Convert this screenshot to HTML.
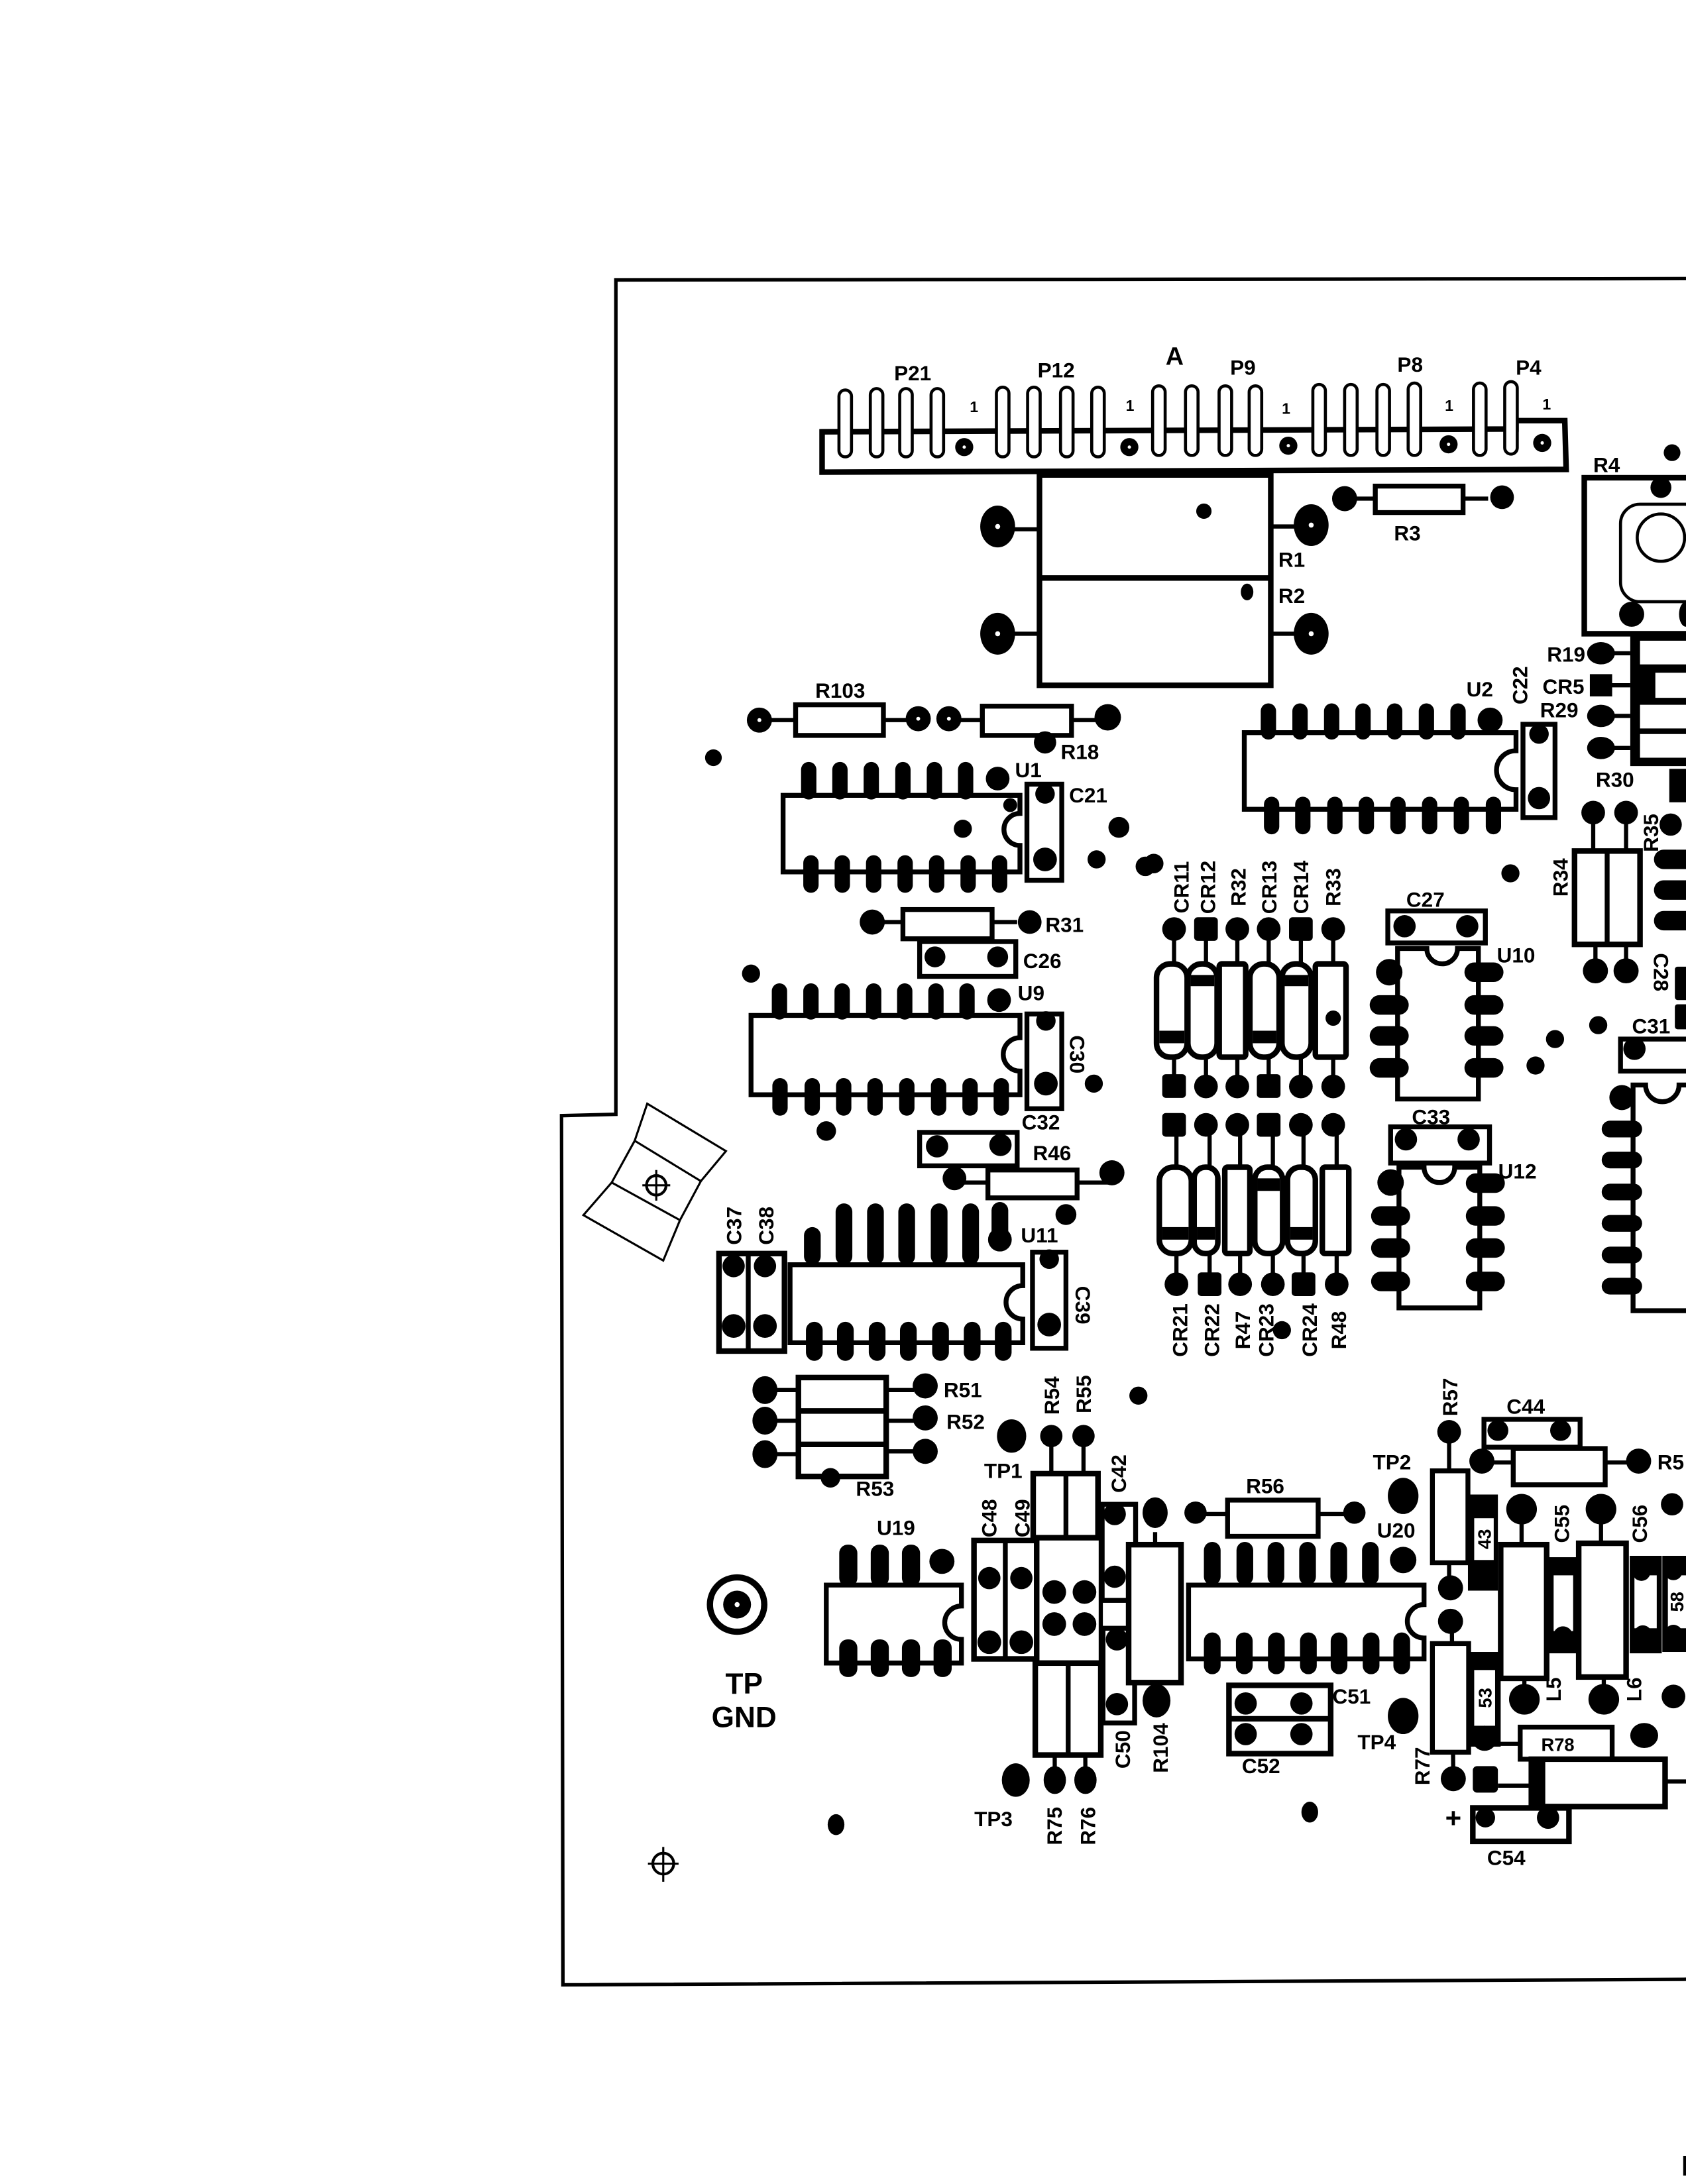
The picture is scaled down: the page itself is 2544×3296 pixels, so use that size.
<!DOCTYPE html>
<html><head><meta charset="utf-8"><style>
html,body{margin:0;padding:0;background:#fff}
svg{display:block}
.t{font-family:"Liberation Sans",sans-serif;font-weight:bold;font-size:15px;fill:#000;text-anchor:middle}
.s{font-size:11px}
.o{fill:#fff;stroke:#000;stroke-width:3.5}
.o2{fill:#fff;stroke:#000;stroke-width:2.2}
.l{stroke:#000;stroke-width:3;fill:none}
.w{fill:#fff}
</style></head><body>
<svg width="2544" height="3296" viewBox="0 0 1210 1568" preserveAspectRatio="none" xmlns="http://www.w3.org/2000/svg">
<rect x="0" y="0" width="1210" height="1568" fill="#fff"/>
<!-- board outline -->
<path d="M1215,200 L442,201 L442,800 L403,801 L404,1425 L1215,1421" fill="none" stroke="#000" stroke-width="2.5"/>
<rect x="1208" y="1548" width="2.5" height="14" fill="#000"/>

<!-- connector strip -->
<path d="M590,310 L1088,308 L1088,302 L1123,302 L1124,337 L590,339 Z" fill="#fff" stroke="#000" stroke-width="4"/>
<g class="o2">
<rect x="602.1" y="280" width="9" height="48" rx="4.5"/><rect x="624.6" y="279" width="9" height="49" rx="4.5"/><rect x="645.7" y="279" width="9" height="49" rx="4.5"/><rect x="668.2" y="279" width="9" height="49" rx="4.5"/>
<rect x="715.1" y="278" width="9" height="50" rx="4.5"/><rect x="737.5" y="278" width="9" height="50" rx="4.5"/><rect x="761.1" y="278" width="9" height="50" rx="4.5"/><rect x="783.5" y="278" width="9" height="50" rx="4.5"/>
<rect x="827.2" y="277" width="9" height="50" rx="4.5"/><rect x="850.8" y="277" width="9" height="50" rx="4.5"/><rect x="874.9" y="277" width="9" height="50" rx="4.5"/><rect x="896.5" y="277" width="9" height="50" rx="4.5"/>
<rect x="942.2" y="276" width="9" height="51" rx="4.5"/><rect x="965" y="276" width="9" height="51" rx="4.5"/><rect x="988.2" y="276" width="9" height="51" rx="4.5"/><rect x="1010.6" y="275" width="9" height="52" rx="4.5"/>
<rect x="1057.5" y="275" width="9" height="52" rx="4.5"/><rect x="1079.9" y="274" width="9" height="52" rx="4.5"/>
</g>
<g fill="#000"><circle cx="692" cy="321" r="6.5"/><circle cx="810.5" cy="321" r="6.5"/><circle cx="924.6" cy="320" r="6.5"/><circle cx="1039.6" cy="319" r="6.5"/><circle cx="1106.8" cy="318" r="6.5"/></g>
<g fill="#fff"><circle cx="692" cy="321" r="1.2"/><circle cx="810.5" cy="321" r="1.2"/><circle cx="924.6" cy="320" r="1.2"/><circle cx="1039.6" cy="319" r="1.2"/><circle cx="1106.8" cy="318" r="1.2"/></g>
<text class="t" x="655" y="273">P21</text><text class="t" x="758" y="271">P12</text><text class="t" x="843" y="262" style="font-size:18px">A</text>
<text class="t" x="892" y="269">P9</text><text class="t" x="1012" y="267">P8</text><text class="t" x="1097" y="269">P4</text>
<text class="t s" x="699" y="296">1</text><text class="t s" x="811" y="295">1</text><text class="t s" x="923" y="297">1</text><text class="t s" x="1040" y="295">1</text><text class="t s" x="1110" y="294">1</text>

<!-- R1 R2 block -->
<rect x="746" y="341" width="166" height="151" class="o" style="stroke-width:4"/>
<line x1="746" y1="415" x2="912" y2="415" stroke="#000" stroke-width="4"/>
<g class="l"><line x1="728" y1="380" x2="746" y2="380"/><line x1="728" y1="455" x2="746" y2="455"/><line x1="912" y1="378" x2="930" y2="378"/><line x1="912" y1="455" x2="930" y2="455"/></g>
<g fill="#000"><ellipse cx="716" cy="378" rx="12.5" ry="15"/><ellipse cx="716" cy="455" rx="12.5" ry="15"/><ellipse cx="941" cy="377" rx="12.5" ry="15"/><ellipse cx="941" cy="455" rx="12.5" ry="15"/><circle cx="864" cy="367" r="5.5"/><ellipse cx="895" cy="425" rx="4.5" ry="6"/></g>
<g fill="#fff"><circle cx="716" cy="378" r="1.8"/><circle cx="716" cy="455" r="1.8"/><circle cx="941" cy="377" r="1.8"/><circle cx="941" cy="455" r="1.8"/></g>
<text class="t" x="927" y="407">R1</text><text class="t" x="927" y="433">R2</text>

<!-- R3 -->
<g class="l"><line x1="965" y1="358" x2="1068" y2="358"/></g>
<rect x="987" y="349" width="63" height="19" class="o"/>
<circle cx="965" cy="358" r="9" fill="#000"/><circle cx="1078" cy="357" r="8.5" fill="#000"/>
<text class="t" x="1010" y="388">R3</text>

<!-- R4 -->
<rect x="1137" y="343" width="85" height="112" class="o" style="stroke-width:4"/>
<rect x="1163" y="362" width="60" height="70" rx="14" class="o2"/>
<circle cx="1192" cy="386" r="17" class="o2"/>
<circle cx="1192" cy="350" r="7.5" fill="#000"/><circle cx="1200" cy="325" r="6" fill="#000"/>
<ellipse cx="1171" cy="441" rx="9" ry="9" fill="#000"/><ellipse cx="1210" cy="441" rx="5" ry="9" fill="#000"/>
<text class="t" x="1153" y="339">R4</text>

<!-- R19 CR5 R29 R30 -->
<rect x="1170" y="455" width="45" height="95" fill="#000"/>
<rect x="1177" y="460" width="40" height="17" class="w"/>
<rect x="1188" y="483" width="30" height="18" class="w"/>
<rect x="1177" y="506" width="40" height="17" class="w"/>
<rect x="1177" y="527" width="40" height="17" class="w"/>
<g class="l"><line x1="1148" y1="469" x2="1170" y2="469"/><line x1="1149" y1="492" x2="1170" y2="492"/><line x1="1149" y1="514" x2="1170" y2="514"/><line x1="1149" y1="537" x2="1170" y2="537"/></g>
<ellipse cx="1149" cy="469" rx="10" ry="8" fill="#000"/><rect x="1141" y="484" width="16" height="16" fill="#000"/><ellipse cx="1149" cy="514" rx="10" ry="8" fill="#000"/><ellipse cx="1149" cy="537" rx="10" ry="8" fill="#000"/>
<text class="t" x="1124" y="475">R19</text><text class="t" x="1122" y="498">CR5</text><text class="t" x="1119" y="515">R29</text><text class="t" x="1159" y="565">R30</text>
<rect x="1198" y="552" width="14" height="24" fill="#000"/>

<!-- C22 / U2 -->
<text class="t" transform="translate(1091,492) rotate(-90)" dy="5">C22</text>
<rect x="1093" y="520" width="23" height="67" class="o"/>
<circle cx="1104.5" cy="527" r="7" fill="#000"/><circle cx="1104.5" cy="573" r="8" fill="#000"/>
<path d="M893,526 L1088,526 L1088,539 A14,14 0 0 0 1088,567 L1088,581 L893,581 Z" class="o"/>
<g fill="#000">
<rect x="904.8" y="505" width="11" height="26" rx="5.5"/><rect x="927.5" y="505" width="11" height="26" rx="5.5"/><rect x="950.2" y="505" width="11" height="26" rx="5.5"/><rect x="972.7" y="505" width="11" height="26" rx="5.5"/><rect x="995.4" y="505" width="11" height="26" rx="5.5"/><rect x="1018.2" y="505" width="11" height="26" rx="5.5"/><rect x="1040.9" y="505" width="11" height="26" rx="5.5"/>
<circle cx="1069.4" cy="517" r="9"/>
<rect x="907.1" y="572" width="11" height="27" rx="5.5"/><rect x="929.5" y="572" width="11" height="27" rx="5.5"/><rect x="952.5" y="572" width="11" height="27" rx="5.5"/><rect x="975.1" y="572" width="11" height="27" rx="5.5"/><rect x="997.8" y="572" width="11" height="27" rx="5.5"/><rect x="1020.5" y="572" width="11" height="27" rx="5.5"/><rect x="1043.3" y="572" width="11" height="27" rx="5.5"/><rect x="1066.3" y="572" width="11" height="27" rx="5.5"/>
</g>
<text class="t" x="1062" y="500">U2</text>

<!-- R103 R18 -->
<g class="l"><line x1="545" y1="517" x2="659" y2="517"/><line x1="681" y1="517" x2="795" y2="517"/></g>
<rect x="571" y="506" width="63" height="22" class="o"/>
<rect x="705" y="507" width="64" height="21" class="o"/>
<g fill="#000"><circle cx="545" cy="517" r="9"/><circle cx="659" cy="516" r="9"/><circle cx="681" cy="516" r="9"/><circle cx="795" cy="515" r="9.5"/><circle cx="750" cy="533" r="8"/></g>
<g fill="#fff"><circle cx="545" cy="517" r="1.4"/><circle cx="659" cy="516" r="1.4"/><circle cx="681" cy="516" r="1.4"/></g>
<text class="t" x="603" y="501">R103</text><text class="t" x="775" y="545">R18</text>

<!-- U1 -->
<path d="M562,571 L732,571 L732,584 A11.5,11.5 0 0 0 732,607 L732,626 L562,626 Z" class="o"/>
<g fill="#000">
<rect x="574.9" y="547" width="11" height="27" rx="5.5"/><rect x="597.3" y="547" width="11" height="27" rx="5.5"/><rect x="619.8" y="547" width="11" height="27" rx="5.5"/><rect x="642.5" y="547" width="11" height="27" rx="5.5"/><rect x="665.1" y="547" width="11" height="27" rx="5.5"/><rect x="687.5" y="547" width="11" height="27" rx="5.5"/>
<circle cx="716" cy="559" r="8.5"/>
<rect x="576.5" y="614" width="11" height="27" rx="5.5"/><rect x="599" y="614" width="11" height="27" rx="5.5"/><rect x="621.5" y="614" width="11" height="27" rx="5.5"/><rect x="644.1" y="614" width="11" height="27" rx="5.5"/><rect x="666.7" y="614" width="11" height="27" rx="5.5"/><rect x="689.3" y="614" width="11" height="27" rx="5.5"/><rect x="711.9" y="614" width="11" height="27" rx="5.5"/>
<circle cx="691" cy="595" r="6.5"/><circle cx="725" cy="578" r="5"/>
</g>
<text class="t" x="738" y="558">U1</text>
<rect x="737" y="563" width="25" height="69" class="o"/>
<circle cx="750" cy="570" r="7" fill="#000"/><circle cx="750" cy="617" r="8.5" fill="#000"/>
<text class="t" x="781" y="576">C21</text>

<!-- misc pads -->
<g fill="#000">
<circle cx="512" cy="544" r="6"/><circle cx="803" cy="594" r="7.5"/><circle cx="787" cy="617" r="6.5"/><circle cx="822" cy="622" r="7"/>
<circle cx="539" cy="699" r="6.5"/><circle cx="785" cy="778" r="6.5"/><circle cx="593" cy="812" r="7"/><circle cx="765" cy="872" r="7.5"/>
<circle cx="817" cy="1002" r="6.5"/><circle cx="828" cy="620" r="7"/><circle cx="1084" cy="627" r="6.5"/><circle cx="1116" cy="746" r="6.5"/>
<circle cx="1102" cy="765" r="6.5"/><circle cx="1147" cy="736" r="6.5"/><circle cx="920" cy="955" r="6.5"/><ellipse cx="600" cy="1310" rx="6" ry="7.5"/>
<ellipse cx="940" cy="1301" rx="6" ry="7.5"/><circle cx="1200" cy="1080" r="8"/><circle cx="1201" cy="1218" r="8.5"/><circle cx="1078" cy="357" r="8"/>
</g>

<!-- R31 C26 -->
<line x1="626" y1="662" x2="730" y2="662" class="l"/>
<rect x="648" y="653" width="64" height="21" class="o"/>
<circle cx="626" cy="662" r="9" fill="#000"/><circle cx="739" cy="662" r="8.5" fill="#000"/>
<text class="t" x="764" y="669">R31</text>
<rect x="660" y="676" width="69" height="25" class="o"/>
<circle cx="671" cy="687" r="7.5" fill="#000"/><circle cx="716" cy="687" r="7.5" fill="#000"/>
<text class="t" x="748" y="695">C26</text>

<!-- U9 -->
<path d="M539,729 L732,729 L732,745 A12,12 0 0 0 732,769 L732,786 L539,786 Z" class="o"/>
<g fill="#000">
<rect x="553.9" y="706" width="11" height="26" rx="5.5"/><rect x="576.5" y="706" width="11" height="26" rx="5.5"/><rect x="598.9" y="706" width="11" height="26" rx="5.5"/><rect x="621.5" y="706" width="11" height="26" rx="5.5"/><rect x="643.8" y="706" width="11" height="26" rx="5.5"/><rect x="666.2" y="706" width="11" height="26" rx="5.5"/><rect x="688.5" y="706" width="11" height="26" rx="5.5"/>
<circle cx="717" cy="718" r="8.5"/>
<rect x="554.3" y="774" width="11" height="27" rx="5.5"/><rect x="577.4" y="774" width="11" height="27" rx="5.5"/><rect x="600" y="774" width="11" height="27" rx="5.5"/><rect x="622.5" y="774" width="11" height="27" rx="5.5"/><rect x="645.3" y="774" width="11" height="27" rx="5.5"/><rect x="668.1" y="774" width="11" height="27" rx="5.5"/><rect x="690.7" y="774" width="11" height="27" rx="5.5"/><rect x="713.1" y="774" width="11" height="27" rx="5.5"/>
</g>
<text class="t" x="740" y="718">U9</text>
<rect x="737" y="728" width="25" height="68" class="o"/>
<circle cx="750.6" cy="733" r="7" fill="#000"/><circle cx="750.6" cy="778" r="8.5" fill="#000"/>
<text class="t" transform="translate(773,757) rotate(90)" dy="5">C30</text>

<!-- C32 R46 -->
<rect x="660" y="813" width="70" height="24" class="o"/>
<circle cx="672.5" cy="823" r="8" fill="#000"/><circle cx="718" cy="822" r="8" fill="#000"/>
<text class="t" x="747" y="811">C32</text>
<line x1="685" y1="849" x2="797" y2="849" class="l"/>
<rect x="709" y="840" width="64" height="20" class="o"/>
<circle cx="685" cy="846" r="8.5" fill="#000"/><circle cx="798" cy="842" r="9" fill="#000"/>
<text class="t" x="755" y="833">R46</text>

<!-- U11 -->
<path d="M567,908 L734,908 L734,923 A12,12 0 0 0 734,947 L734,964 L567,964 Z" class="o"/>
<g fill="#000">
<rect x="577" y="881" width="12" height="27" rx="6"/><rect x="599.7" y="864" width="12" height="44" rx="6"/><rect x="622.3" y="864" width="12" height="44" rx="6"/><rect x="644.7" y="864" width="12" height="44" rx="6"/><rect x="668" y="864" width="12" height="44" rx="6"/><rect x="690.6" y="864" width="12" height="44" rx="6"/><rect x="711.6" y="863" width="12" height="30" rx="6"/>
<circle cx="717.6" cy="890" r="8.5"/>
<rect x="578.4" y="949" width="12" height="28" rx="6"/><rect x="600.7" y="949" width="12" height="28" rx="6"/><rect x="623.5" y="949" width="12" height="28" rx="6"/><rect x="645.9" y="949" width="12" height="28" rx="6"/><rect x="669" y="949" width="12" height="28" rx="6"/><rect x="691.7" y="949" width="12" height="28" rx="6"/><rect x="714" y="949" width="12" height="28" rx="6"/>
</g>
<text class="t" x="746" y="892">U11</text>

<!-- C37 C38 C39 -->
<rect x="516" y="900" width="47" height="70" class="o" style="stroke-width:4"/>
<line x1="537" y1="900" x2="537" y2="970" stroke="#000" stroke-width="3.5"/>
<g fill="#000"><circle cx="526.5" cy="909" r="8"/><circle cx="549" cy="909" r="8"/><circle cx="526.5" cy="952" r="8.5"/><circle cx="549" cy="952" r="8.5"/></g>
<text class="t" transform="translate(527,880) rotate(-90)" dy="5">C37</text>
<text class="t" transform="translate(550,880) rotate(-90)" dy="5">C38</text>
<rect x="741" y="899" width="24" height="69" class="o"/>
<circle cx="753" cy="904" r="7" fill="#000"/><circle cx="753" cy="951" r="8.5" fill="#000"/>
<text class="t" transform="translate(777,937) rotate(90)" dy="5">C39</text>

<!-- fiducial -->
<polygon points="464.5,792.4 521,826.4 503,848 488,876 476,905 418.7,872.4 439,849 455.5,819" fill="#fff" stroke="#000" stroke-width="1.5"/>
<line x1="455.5" y1="819" x2="503" y2="848" stroke="#000" stroke-width="1.5"/>
<line x1="439" y1="849" x2="488" y2="876" stroke="#000" stroke-width="1.5"/>
<circle cx="471" cy="851" r="7" fill="none" stroke="#000" stroke-width="2"/>
<line x1="461" y1="851" x2="481" y2="851" stroke="#000" stroke-width="1.5"/><line x1="471" y1="840" x2="471" y2="862" stroke="#000" stroke-width="1.5"/>
<circle cx="476" cy="1338" r="7.5" fill="none" stroke="#000" stroke-width="2"/>
<line x1="465" y1="1338" x2="487" y2="1338" stroke="#000" stroke-width="1.5"/><line x1="476" y1="1326" x2="476" y2="1351" stroke="#000" stroke-width="1.5"/>

<!-- CR block -->
<g class="l">
<line x1="842.6" y1="667" x2="842.6" y2="780"/><line x1="865.5" y1="667" x2="865.5" y2="780"/><line x1="888" y1="667" x2="888" y2="780"/><line x1="910.5" y1="667" x2="910.5" y2="780"/><line x1="933.6" y1="667" x2="933.6" y2="780"/><line x1="956.8" y1="667" x2="956.8" y2="780"/>
<line x1="844.3" y1="808" x2="844.3" y2="922"/><line x1="868.1" y1="808" x2="868.1" y2="922"/><line x1="890" y1="808" x2="890" y2="922"/><line x1="913.5" y1="808" x2="913.5" y2="922"/><line x1="935.5" y1="808" x2="935.5" y2="922"/><line x1="959.3" y1="808" x2="959.3" y2="922"/>
</g>
<g class="o" style="stroke-width:4">
<rect x="830" y="692" width="22" height="67" rx="10"/><rect x="852.5" y="692" width="21" height="67" rx="10"/><rect x="875" y="692" width="19" height="67" rx="2"/><rect x="897" y="692" width="21" height="67" rx="10"/><rect x="920" y="692" width="21" height="67" rx="10"/><rect x="944" y="692" width="22" height="67" rx="2"/>
<rect x="832" y="838" width="23" height="62" rx="10"/><rect x="857" y="838" width="17" height="62" rx="8"/><rect x="879" y="838" width="18" height="62" rx="2"/><rect x="900.5" y="838" width="20" height="62" rx="9"/><rect x="924" y="838" width="20" height="62" rx="9"/><rect x="949" y="838" width="19" height="62" rx="2"/>
</g>
<g fill="#000">
<rect x="832" y="740" width="18" height="9"/><rect x="854.5" y="700" width="17" height="8"/><rect x="899" y="740" width="17" height="9"/><rect x="922" y="700" width="17" height="8"/>
<rect x="834" y="881" width="19" height="9"/><rect x="859" y="881" width="13" height="9"/><rect x="902.5" y="846" width="16" height="9"/><rect x="926" y="881" width="16" height="9"/>
<circle cx="956.8" cy="731" r="5.5"/>
<circle cx="842.6" cy="667" r="8.5"/><rect x="857" y="658.5" width="17" height="17" rx="2.5"/><circle cx="888" cy="667" r="8.5"/><circle cx="910.5" cy="667" r="8.5"/><rect x="925.1" y="658.5" width="17" height="17" rx="2.5"/><circle cx="956.8" cy="667" r="8.5"/>
<rect x="834.1" y="771.2" width="17" height="17" rx="2.5"/><circle cx="865.5" cy="780" r="8.5"/><circle cx="888" cy="780" r="8.5"/><rect x="902" y="771.2" width="17" height="17" rx="2.5"/><circle cx="933.6" cy="780" r="8.5"/><circle cx="956.8" cy="780" r="8.5"/>
<rect x="834.1" y="799.1" width="17" height="17" rx="2.5"/><circle cx="865.5" cy="807.6" r="8.5"/><circle cx="888" cy="807.6" r="8.5"/><rect x="902" y="799.1" width="17" height="17" rx="2.5"/><circle cx="933.6" cy="807.6" r="8.5"/><circle cx="956.8" cy="807.6" r="8.5"/>
<circle cx="844.3" cy="922" r="8.5"/><rect x="859.6" y="913.5" width="17" height="17" rx="2.5"/><circle cx="890" cy="922" r="8.5"/><circle cx="913.5" cy="922" r="8.5"/><rect x="927" y="913.5" width="17" height="17" rx="2.5"/><circle cx="959.3" cy="922" r="8.5"/>
</g>
<text class="t" transform="translate(848,637) rotate(-90)" dy="5">CR11</text>
<text class="t" transform="translate(867,637) rotate(-90)" dy="5">CR12</text>
<text class="t" transform="translate(889,637) rotate(-90)" dy="5">R32</text>
<text class="t" transform="translate(911,637) rotate(-90)" dy="5">CR13</text>
<text class="t" transform="translate(934,637) rotate(-90)" dy="5">CR14</text>
<text class="t" transform="translate(957,637) rotate(-90)" dy="5">R33</text>
<text class="t" transform="translate(847,955) rotate(-90)" dy="5">CR21</text>
<text class="t" transform="translate(870,955) rotate(-90)" dy="5">CR22</text>
<text class="t" transform="translate(892,955) rotate(-90)" dy="5">R47</text>
<text class="t" transform="translate(909,955) rotate(-90)" dy="5">CR23</text>
<text class="t" transform="translate(940,955) rotate(-90)" dy="5">CR24</text>
<text class="t" transform="translate(961,955) rotate(-90)" dy="5">R48</text>

<!-- C27 U10 -->
<rect x="996" y="654" width="70" height="23" class="o"/>
<circle cx="1008" cy="665" r="8" fill="#000"/><circle cx="1053" cy="665" r="8" fill="#000"/>
<text class="t" x="1023" y="651">C27</text>
<path d="M1003,681 L1024,681 A11,11 0 0 0 1046,681 L1061,681 L1061,789 L1003,789 Z" class="o"/>
<g fill="#000">
<circle cx="997" cy="698" r="9.5"/><rect x="983" y="714.5" width="28" height="14" rx="7"/><rect x="983" y="736.7" width="28" height="14" rx="7"/><rect x="983" y="759.7" width="28" height="14" rx="7"/>
<rect x="1051" y="691" width="28" height="14" rx="7"/><rect x="1051" y="714.5" width="28" height="14" rx="7"/><rect x="1051" y="736.7" width="28" height="14" rx="7"/><rect x="1051" y="759.7" width="28" height="14" rx="7"/>
</g>
<text class="t" x="1088" y="691">U10</text>
<!-- C33 U12 -->
<rect x="998" y="809" width="71" height="26" class="o"/>
<circle cx="1009" cy="818" r="8" fill="#000"/><circle cx="1054" cy="818" r="8" fill="#000"/>
<text class="t" x="1027" y="807">C33</text>
<path d="M1004,838 L1022,838 A11,11 0 0 0 1044,838 L1062,838 L1062,939 L1004,939 Z" class="o"/>
<g fill="#000">
<circle cx="998" cy="849" r="9.5"/><rect x="984" y="866" width="28" height="14" rx="7"/><rect x="984" y="889" width="28" height="14" rx="7"/><rect x="984" y="913" width="28" height="14" rx="7"/>
<rect x="1052" y="842.4" width="28" height="14" rx="7"/><rect x="1052" y="866" width="28" height="14" rx="7"/><rect x="1052" y="889" width="28" height="14" rx="7"/><rect x="1052" y="913" width="28" height="14" rx="7"/>
</g>
<text class="t" x="1089" y="846">U12</text>

<!-- R34 R35 -->
<g class="l"><line x1="1143.4" y1="583" x2="1143.4" y2="611"/><line x1="1167" y1="583" x2="1167" y2="611"/><line x1="1145" y1="678" x2="1145" y2="697"/><line x1="1167" y1="678" x2="1167" y2="697"/></g>
<rect x="1130" y="611" width="47" height="67" class="o" style="stroke-width:4"/>
<line x1="1153.4" y1="611" x2="1153.4" y2="678" stroke="#000" stroke-width="3.5"/>
<g fill="#000"><circle cx="1143.4" cy="583.4" r="8.5"/><circle cx="1167" cy="583.4" r="8.5"/><circle cx="1145" cy="697" r="9"/><circle cx="1167" cy="697" r="9"/></g>
<text class="t" transform="translate(1120,630) rotate(-90)" dy="5">R34</text>
<text class="t" transform="translate(1185,598) rotate(-90)" dy="5">R35</text>

<!-- right IC & misc -->
<g fill="#000">
<circle cx="1199" cy="592" r="8"/>
<rect x="1187" y="610" width="30" height="14" rx="7"/><rect x="1187" y="632" width="30" height="14" rx="7"/><rect x="1187" y="654" width="30" height="14" rx="7"/>
<rect x="1202" y="694" width="10" height="24" rx="2"/><rect x="1202" y="721" width="10" height="18" rx="2"/>
</g>
<text class="t" transform="translate(1192,698) rotate(90)" dy="5">C28</text>
<rect x="1163" y="746" width="52" height="23" class="o"/>
<circle cx="1173" cy="753" r="8" fill="#000"/>
<text class="t" x="1185" y="742">C31</text>
<path d="M1215,779 L1205,779 A12,12 0 0 1 1181,779 L1172,779 L1172,941 L1215,941" class="o"/>
<g fill="#000">
<circle cx="1164" cy="788" r="9"/>
<rect x="1149.5" y="804.6" width="29" height="12" rx="6"/><rect x="1149.5" y="826.8" width="29" height="12" rx="6"/><rect x="1149.5" y="849.8" width="29" height="12" rx="6"/><rect x="1149.5" y="872.3" width="29" height="12" rx="6"/><rect x="1149.5" y="895" width="29" height="12" rx="6"/><rect x="1149.5" y="917.4" width="29" height="12" rx="6"/>
</g>

<!-- R51 R52 R53 -->
<g class="l"><line x1="549" y1="998" x2="573" y2="998"/><line x1="549" y1="1020" x2="573" y2="1020"/><line x1="549" y1="1044" x2="573" y2="1044"/><line x1="636" y1="998" x2="656" y2="998"/><line x1="636" y1="1020" x2="656" y2="1020"/><line x1="636" y1="1042" x2="656" y2="1042"/></g>
<rect x="573" y="989" width="63" height="71" class="o" style="stroke-width:4"/>
<line x1="573" y1="1013" x2="636" y2="1013" stroke="#000" stroke-width="4"/><line x1="573" y1="1037" x2="636" y2="1037" stroke="#000" stroke-width="4"/>
<g fill="#000"><ellipse cx="549" cy="998" rx="9" ry="10"/><ellipse cx="549" cy="1020" rx="9" ry="10"/><ellipse cx="549" cy="1044" rx="9" ry="10"/><circle cx="664" cy="995" r="9"/><circle cx="664" cy="1018" r="9"/><circle cx="664" cy="1042" r="9"/><circle cx="596" cy="1061" r="7"/></g>
<text class="t" x="691" y="1003">R51</text><text class="t" x="693" y="1026">R52</text><text class="t" x="628" y="1074">R53</text>

<!-- TP1 R54 R55 -->
<g fill="#000"><ellipse cx="726" cy="1031" rx="10.5" ry="12"/><circle cx="754.5" cy="1031" r="8"/><circle cx="777.6" cy="1031" r="8"/></g>
<text class="t" transform="translate(755,1002) rotate(-90)" dy="5">R54</text>
<text class="t" transform="translate(778,1001) rotate(-90)" dy="5">R55</text>
<text class="t" x="720" y="1061">TP1</text>
<g class="l"><line x1="754.5" y1="1031" x2="754.5" y2="1143"/><line x1="777.6" y1="1031" x2="777.6" y2="1143"/><line x1="756.6" y1="1166" x2="757" y2="1278"/><line x1="778.3" y1="1166" x2="779" y2="1278"/></g>
<rect x="743" y="1104" width="47" height="90" class="o" style="stroke-width:3"/>
<rect x="741.5" y="1058" width="46.5" height="46" class="o" style="stroke-width:4"/>
<line x1="765" y1="1058" x2="765" y2="1104" stroke="#000" stroke-width="3.5"/>
<rect x="743" y="1194" width="47" height="66" class="o" style="stroke-width:4"/>
<line x1="766.6" y1="1194" x2="766.6" y2="1260" stroke="#000" stroke-width="3.5"/>
<g fill="#000"><circle cx="756.6" cy="1143" r="8.5"/><circle cx="778.3" cy="1143" r="8.5"/><circle cx="756.6" cy="1166" r="8.5"/><circle cx="778.3" cy="1166" r="8.5"/>
<ellipse cx="757" cy="1278" rx="8" ry="10"/><ellipse cx="779" cy="1278" rx="8" ry="10"/><ellipse cx="729" cy="1278" rx="10" ry="12"/></g>
<text class="t" x="713" y="1311">TP3</text>
<text class="t" transform="translate(757,1311) rotate(-90)" dy="5">R75</text>
<text class="t" transform="translate(781,1311) rotate(-90)" dy="5">R76</text>

<!-- C42 C50 R104 -->
<rect x="791" y="1080" width="24" height="69" class="o"/>
<circle cx="800" cy="1087" r="8" fill="#000"/><circle cx="800" cy="1132" r="8" fill="#000"/>
<text class="t" transform="translate(803,1058) rotate(-90)" dy="5">C42</text>
<rect x="791.6" y="1169" width="22.7" height="68" class="o"/>
<circle cx="801.6" cy="1177" r="8" fill="#000"/><circle cx="801.6" cy="1223.5" r="8" fill="#000"/>
<text class="t" transform="translate(806,1256) rotate(-90)" dy="5">C50</text>
<line x1="829" y1="1100" x2="829" y2="1109" class="l"/>
<rect x="810" y="1109" width="37.6" height="99" class="o" style="stroke-width:4"/>
<ellipse cx="830" cy="1221" rx="10" ry="12" fill="#000"/>
<text class="t" transform="translate(833,1255) rotate(-90)" dy="5">R104</text>
<ellipse cx="829" cy="1086" rx="9" ry="11" fill="#000"/>

<!-- R56 TP2 -->
<line x1="858" y1="1087" x2="972" y2="1087" class="l"/>
<rect x="881" y="1077" width="65" height="26" class="o"/>
<circle cx="858" cy="1086" r="8" fill="#000"/><circle cx="972" cy="1086" r="8" fill="#000"/>
<text class="t" x="908" y="1072">R56</text>
<ellipse cx="1007" cy="1074" rx="11" ry="13" fill="#000"/>
<text class="t" x="999" y="1055">TP2</text>

<!-- U20 -->
<path d="M853,1138 L1022,1138 L1022,1152 A12,12 0 0 0 1022,1176 L1022,1191 L853,1191 Z" class="o"/>
<g fill="#000">
<rect x="864" y="1107" width="12" height="31" rx="6"/><rect x="887.4" y="1107" width="12" height="31" rx="6"/><rect x="909.7" y="1107" width="12" height="31" rx="6"/><rect x="932.4" y="1107" width="12" height="31" rx="6"/><rect x="954.8" y="1107" width="12" height="31" rx="6"/><rect x="977.5" y="1107" width="12" height="31" rx="6"/>
<circle cx="1007" cy="1120" r="9.5"/>
<rect x="864" y="1172" width="12" height="30" rx="6"/><rect x="887" y="1172" width="12" height="30" rx="6"/><rect x="910" y="1172" width="12" height="30" rx="6"/><rect x="933" y="1172" width="12" height="30" rx="6"/><rect x="955" y="1172" width="12" height="30" rx="6"/><rect x="978" y="1172" width="12" height="30" rx="6"/><rect x="1000" y="1172" width="12" height="30" rx="6"/>
</g>
<text class="t" x="1002" y="1104">U20</text>

<!-- C48 C49 -->
<rect x="699" y="1106" width="45" height="85" class="o" style="stroke-width:4"/>
<line x1="721.5" y1="1106" x2="721.5" y2="1191" stroke="#000" stroke-width="3.5"/>
<g fill="#000"><circle cx="710" cy="1133" r="8"/><circle cx="733" cy="1133" r="8"/><circle cx="710" cy="1179" r="8.5"/><circle cx="733" cy="1179" r="8.5"/></g>
<text class="t" transform="translate(710,1090) rotate(-90)" dy="5">C48</text>
<text class="t" transform="translate(734,1090) rotate(-90)" dy="5">C49</text>

<!-- U19 -->
<path d="M593,1138 L690,1138 L690,1153 A12,12 0 0 0 690,1177 L690,1194 L593,1194 Z" class="o"/>
<g fill="#000">
<rect x="602.3" y="1109" width="13" height="30" rx="6"/><rect x="624.9" y="1109" width="13" height="30" rx="6"/><rect x="647.3" y="1109" width="13" height="30" rx="6"/>
<circle cx="676" cy="1121" r="9"/>
<rect x="602.3" y="1177" width="13" height="27" rx="6"/><rect x="624.9" y="1177" width="13" height="27" rx="6"/><rect x="647.3" y="1177" width="13" height="27" rx="6"/><rect x="670" y="1177" width="13" height="27" rx="6"/>
</g>
<text class="t" x="643" y="1102">U19</text>

<!-- TP GND -->
<circle cx="529" cy="1152" r="19.5" fill="#fff" stroke="#000" stroke-width="4.5"/>
<circle cx="529" cy="1152" r="10" fill="#000"/><circle cx="529" cy="1152" r="1.8" fill="#fff"/>
<text class="t" x="534" y="1216" style="font-size:21px">TP</text>
<text class="t" x="534" y="1240" style="font-size:21px">GND</text>

<!-- C51 C52 TP4 -->
<rect x="882" y="1210" width="73" height="49" class="o" style="stroke-width:4"/>
<line x1="882" y1="1234" x2="955" y2="1234" stroke="#000" stroke-width="4"/>
<g fill="#000"><circle cx="894" cy="1223" r="8"/><circle cx="934" cy="1223" r="8"/><circle cx="894" cy="1245" r="8"/><circle cx="934" cy="1245" r="8"/></g>
<text class="t" x="970" y="1223">C51</text><text class="t" x="905" y="1273">C52</text>
<ellipse cx="1007" cy="1232" rx="11" ry="13" fill="#000"/>
<text class="t" x="988" y="1256">TP4</text>

<!-- R57 R77 -->
<g class="l"><line x1="1040" y1="1028" x2="1040" y2="1140"/><line x1="1042" y1="1172" x2="1043" y2="1277"/></g>
<rect x="1028" y="1056" width="25.5" height="66" class="o"/>
<rect x="1028" y="1180" width="26" height="78" class="o"/>
<g fill="#000"><circle cx="1040" cy="1028" r="8.5"/><circle cx="1041" cy="1140" r="9"/><circle cx="1041" cy="1164" r="9"/><circle cx="1043" cy="1277" r="9"/></g>
<text class="t" transform="translate(1041,1003) rotate(-90)" dy="5">R57</text>
<text class="t" transform="translate(1021,1268) rotate(-90)" dy="5">R77</text>

<!-- C43 C53 -->
<rect x="1053.5" y="1073" width="21.5" height="69" fill="#000"/>
<rect x="1058" y="1090" width="14" height="30" fill="#fff"/>
<text class="t" transform="translate(1065,1105) rotate(-90)" dy="5" style="font-size:13px">43</text>
<rect x="1053.5" y="1186" width="23.5" height="68" fill="#000"/>
<rect x="1058" y="1199" width="15" height="40" fill="#fff"/>
<text class="t" transform="translate(1065.5,1219) rotate(-90)" dy="5" style="font-size:13px">53</text>

<!-- C44 R5x -->
<rect x="1065" y="1019" width="69" height="20" class="o"/>
<circle cx="1075" cy="1027" r="7.5" fill="#000"/><circle cx="1120" cy="1027" r="7.5" fill="#000"/>
<text class="t" x="1095" y="1015">C44</text>
<line x1="1063" y1="1050" x2="1176" y2="1050" class="l"/>
<rect x="1086" y="1040" width="66" height="26" class="o"/>
<circle cx="1063.5" cy="1049" r="9" fill="#000"/><circle cx="1176" cy="1049" r="9" fill="#000"/>
<text class="t" x="1199" y="1055">R5</text>

<!-- L5 L6 C55 C56 C58 -->
<g class="l"><line x1="1092" y1="1083" x2="1092" y2="1110"/><line x1="1149" y1="1083" x2="1149" y2="1110"/><line x1="1094" y1="1204" x2="1094" y2="1220"/><line x1="1151" y1="1204" x2="1151" y2="1220"/></g>
<g fill="#000"><circle cx="1092" cy="1083.5" r="11"/><circle cx="1149" cy="1083.5" r="11"/><circle cx="1094" cy="1220" r="11"/><circle cx="1151" cy="1220" r="11"/></g>
<rect x="1111" y="1118" width="22" height="69" fill="#000"/>
<rect x="1115" y="1131" width="14" height="40" fill="#fff"/>
<circle cx="1121.7" cy="1174.6" r="7" fill="#000"/>
<rect x="1169.6" y="1117" width="23" height="70" fill="#000"/>
<rect x="1173" y="1131" width="16" height="38" fill="#fff"/>
<circle cx="1178" cy="1128.5" r="6.5" fill="#000"/><circle cx="1179" cy="1173.4" r="6.5" fill="#000"/>
<rect x="1193" y="1117" width="20" height="69" fill="#000"/>
<rect x="1197" y="1131" width="16" height="38" fill="#fff"/>
<circle cx="1201" cy="1128" r="6.5" fill="#000"/><circle cx="1201" cy="1173" r="6.5" fill="#000"/>
<text class="t" transform="translate(1203,1150) rotate(-90)" dy="5" style="font-size:13px">58</text>
<rect x="1077" y="1109" width="33" height="96" class="o" style="stroke-width:4"/>
<rect x="1133" y="1108" width="34" height="96" class="o" style="stroke-width:4"/>
<text class="t" transform="translate(1121,1094) rotate(-90)" dy="5">C55</text>
<text class="t" transform="translate(1177,1094) rotate(-90)" dy="5">C56</text>
<text class="t" transform="translate(1115,1213) rotate(-90)" dy="5">L5</text>
<text class="t" transform="translate(1173,1213) rotate(-90)" dy="5">L6</text>

<!-- R78, diode, C54 -->
<line x1="1065" y1="1252" x2="1091" y2="1252" class="l"/>
<rect x="1091" y="1240" width="66" height="23" class="o"/>
<text class="t" x="1118" y="1257" style="font-size:13px">R78</text>
<circle cx="1065.4" cy="1248" r="9" fill="#000"/><ellipse cx="1180" cy="1246" rx="10" ry="9" fill="#000"/>
<rect x="1057" y="1268" width="18" height="19" rx="3" fill="#000"/>
<g class="l"><line x1="1075" y1="1282" x2="1099" y2="1282"/><line x1="1195" y1="1279" x2="1212" y2="1279"/></g>
<rect x="1099" y="1263" width="96" height="34" class="o" style="stroke-width:4"/>
<rect x="1099" y="1263" width="10" height="34" fill="#000"/>
<rect x="1057" y="1298" width="69" height="24" class="o" style="stroke-width:4"/>
<circle cx="1066" cy="1305" r="7" fill="#000"/><circle cx="1111" cy="1305" r="8" fill="#000"/>
<text class="t" x="1043" y="1312" style="font-size:20px">+</text>
<text class="t" x="1081" y="1339">C54</text>
</svg>
</body></html>
